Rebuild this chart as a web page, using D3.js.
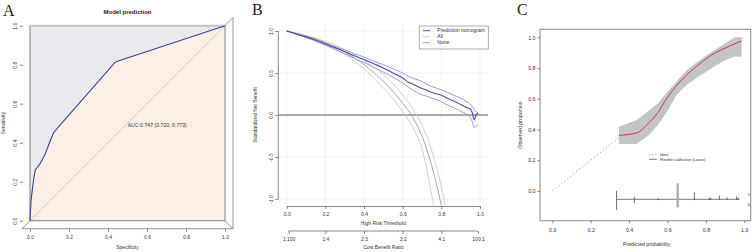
<!DOCTYPE html>
<html>
<head>
<meta charset="utf-8">
<script src="https://cdn.jsdelivr.net/npm/d3@7"></script>
<style>
body { margin: 0; background: #fff; }
svg { display: block; font-family: "Liberation Sans", Arial, sans-serif; }
</style>
</head>
<body>
<svg id="fig" width="753" height="252"></svg>
<script>
// ---- panel A: ROC ----
var rocX = [0, 0.005, 0.012, 0.02, 0.027, 0.05, 0.077, 0.1, 0.12, 0.154, 0.436, 0.46, 1];
var rocY = [0, 0.1, 0.16, 0.22, 0.26, 0.29, 0.34, 0.4, 0.45, 0.49, 0.812, 0.822, 1];
var aucLabel = "AUC:0.747 (0.720, 0.773)";
var unitTicks = [0, 0.2, 0.4, 0.6, 0.8, 1];

// ---- panel B: decision curve ----
var nomoT = [0, 0.05, 0.1, 0.15, 0.2, 0.25, 0.3, 0.35, 0.4, 0.45, 0.5, 0.55, 0.6, 0.63, 0.65, 0.7, 0.73, 0.75, 0.8, 0.83, 0.85, 0.88, 0.9, 0.93, 0.95, 0.96, 0.97, 0.98, 0.99];
var nomoMid = [1, 0.965, 0.93, 0.89, 0.845, 0.8, 0.755, 0.705, 0.66, 0.61, 0.56, 0.5, 0.44, 0.39, 0.37, 0.315, 0.29, 0.27, 0.235, 0.2, 0.18, 0.15, 0.125, 0.09, 0.07, 0.03, -0.06, 0.0, 0.02];
var nomoHi = [1, 0.968, 0.935, 0.9, 0.86, 0.815, 0.775, 0.73, 0.69, 0.64, 0.6, 0.55, 0.5, 0.46, 0.44, 0.4, 0.36, 0.34, 0.3, 0.27, 0.25, 0.22, 0.2, 0.16, 0.13, 0.1, 0.06, 0.04, 0.02];
var nomoLo = [1, 0.962, 0.922, 0.88, 0.83, 0.78, 0.73, 0.675, 0.625, 0.57, 0.51, 0.45, 0.38, 0.33, 0.3, 0.24, 0.22, 0.2, 0.16, 0.12, 0.1, 0.07, 0.045, 0.01, -0.03, -0.08, -0.15, -0.13, -0.12];
var allT = [0, 0.1, 0.2, 0.3, 0.4, 0.5, 0.55, 0.6, 0.65, 0.7, 0.75, 0.8, 0.85];
var allMid = [1, 0.94, 0.86, 0.75, 0.6, 0.4, 0.28, 0.14, -0.02, -0.25, -0.6, -1.08, -1.7];
var allHi = [1, 0.95, 0.875, 0.78, 0.65, 0.48, 0.37, 0.24, 0.08, -0.12, -0.42, -0.85, -1.45];
var allLo = [1, 0.93, 0.845, 0.72, 0.55, 0.32, 0.19, 0.04, -0.14, -0.4, -0.95, -1.6, -2.3];
var snbTicks = [-1, -0.5, 0, 0.5, 1];
var cbTicks = [0.01, 0.2, 0.4, 0.6, 0.8, 0.99];
var cbLabels = ["1:100", "1:4", "2:3", "3:2", "4:1", "100:1"];
var dcaLegend = ["Prediction nomogram", "All", "None"];

// ---- panel C: calibration ----
var calP = [0.347, 0.44, 0.5, 0.55, 0.6, 0.65, 0.7, 0.75, 0.8, 0.85, 0.9, 0.95, 0.986];
var calObs = [0.362, 0.378, 0.44, 0.51, 0.61, 0.69, 0.755, 0.81, 0.86, 0.9, 0.93, 0.958, 0.976];
var calHi = [0.418, 0.462, 0.52, 0.57, 0.645, 0.715, 0.787, 0.835, 0.88, 0.92, 0.96, 1.0, 1.0];
var calLo = [0.306, 0.306, 0.36, 0.43, 0.52, 0.63, 0.69, 0.735, 0.775, 0.815, 0.85, 0.875, 0.874];
var rugP = [0.335, 0.427, 0.552, 0.653, 0.74, 0.818, 0.826, 0.87, 0.91, 0.96, 0.968];
var rugOnes = [26, 8, 3, 50, 22, 5, 5, 12, 6, 9, 5];
var rugZeros = [33, 12, 3, 25, 3, 2, 2, 2, 2, 2, 2];
var calLegend = ["Ideal", "Flexible calibration (Loess)"];

var svg = d3.select("#fig");
var fmt1 = function(d) { return d3.format(".1f")(d).replace("\u2212", "-"); };

function tidy(g, fs) {
  g.attr("font-size", fs).attr("font-family", null);
  g.selectAll("line").attr("stroke", "#555").attr("stroke-width", 0.7);
  g.selectAll("text").attr("fill", "#333");
  return g;
}

function letter(x, y, s) {
  svg.append("text").attr("x", x).attr("y", y).text(s)
    .attr("font-family", "Liberation Serif, Times New Roman, serif")
    .attr("font-size", 16).attr("fill", "#222");
}

// ================= A =================
var xA = d3.scaleLinear().domain([0, 1]).range([30, 225]);
var yA = d3.scaleLinear().domain([0, 1]).range([220.7, 25.7]);
var rocPts = rocX.map(function(d, i) { return [d, rocY[i]]; });
var gA = svg.append("g");

gA.append("rect").attr("x", xA(0)).attr("y", yA(1))
  .attr("width", xA(1) - xA(0)).attr("height", yA(0) - yA(1)).attr("fill", "#e9eaee");
gA.append("path").datum(rocPts).attr("fill", "#fdf1e7")
  .attr("d", d3.area().x(function(d) { return xA(d[0]); }).y0(yA(0)).y1(function(d) { return yA(d[1]); }));

// 3D-ish frame
var o = 8;
var frame = [
  [xA(0) - o, yA(0) + o, xA(1) + o, yA(0) + o],
  [xA(1) + o, yA(1) - o, xA(1) + o, yA(0) + o],
  [xA(0) - o, yA(0) + o, xA(0), yA(0)],
  [xA(1), yA(1), xA(1) + o, yA(1) - o],
  [xA(1), yA(0), xA(1) + o, yA(0) + o]
];
gA.selectAll(".fr").data(frame).enter().append("line")
  .attr("x1", function(d) { return d[0]; }).attr("y1", function(d) { return d[1]; })
  .attr("x2", function(d) { return d[2]; }).attr("y2", function(d) { return d[3]; })
  .attr("stroke", "#8a8a8a").attr("stroke-width", 0.9);

gA.append("line").attr("x1", xA(0)).attr("y1", yA(0)).attr("x2", xA(1)).attr("y2", yA(1))
  .attr("stroke", "#bdbdbd").attr("stroke-width", 0.8);
gA.append("rect").attr("x", xA(0)).attr("y", yA(1))
  .attr("width", xA(1) - xA(0)).attr("height", yA(0) - yA(1))
  .attr("fill", "none").attr("stroke", "#888").attr("stroke-width", 1.1);
gA.append("line").attr("x1", xA(0)).attr("x2", xA(1)).attr("y1", yA(1)).attr("y2", yA(1))
  .attr("stroke", "#c6c6c6").attr("stroke-width", 2);

gA.append("path").datum(rocPts).attr("fill", "none").attr("stroke", "#3f3f8f").attr("stroke-width", 1.1)
  .attr("d", d3.line().x(function(d) { return xA(d[0]); }).y(function(d) { return yA(d[1]); }));

var axA = gA.append("g").attr("transform", "translate(0," + (yA(0) + o) + ")")
  .call(d3.axisBottom(xA).tickValues(unitTicks).tickSize(3).tickPadding(3.5).tickFormat(fmt1));
axA.select(".domain").remove();
tidy(axA, 5);

var ayA = gA.append("g").attr("transform", "translate(" + (xA(0) - 7) + ",0)")
  .call(d3.axisLeft(yA).tickValues(unitTicks).tickSize(3).tickFormat(fmt1));
ayA.select(".domain").remove();
tidy(ayA, 5);
ayA.selectAll("text").attr("transform", "rotate(-90)").attr("x", 0).attr("y", -6.5)
  .attr("dy", 0).attr("text-anchor", "middle");

gA.append("text").attr("x", 127.5).attr("y", 14).attr("text-anchor", "middle")
  .attr("font-size", 6).attr("font-weight", "bold").attr("fill", "#222").text("Model prediction");
gA.append("text").attr("x", 127.5).attr("y", 249).attr("text-anchor", "middle")
  .attr("font-size", 5).attr("fill", "#333").text("Specificity");
gA.append("text").attr("transform", "translate(5," + yA(0.5) + ") rotate(-90)")
  .attr("text-anchor", "middle").attr("font-size", 5).attr("fill", "#333").text("Sensitivity");
gA.append("text").attr("x", 127.7).attr("y", 127.3).attr("font-size", 5.2).attr("fill", "#333").text(aucLabel);
letter(3, 16, "A");

// ================= B =================
var xB = d3.scaleLinear().domain([0, 1]).range([286.7, 480]);
var yB = d3.scaleLinear().domain([-1, 1]).range([199, 31]);
var gB = svg.append("g");
var regB = { x0: 279, x1: 488, y0: 24.3, y1: 205.5 };

svg.append("defs").append("clipPath").attr("id", "clipB").append("rect")
  .attr("x", regB.x0).attr("y", regB.y0).attr("width", regB.x1 - regB.x0).attr("height", regB.y1 - regB.y0);

gB.selectAll(".vg").data(unitTicks).enter().append("line")
  .attr("x1", xB).attr("x2", xB).attr("y1", regB.y0).attr("y2", regB.y1)
  .attr("stroke", "#ededed").attr("stroke-width", 0.8);
gB.selectAll(".hg").data(snbTicks).enter().append("line")
  .attr("y1", yB).attr("y2", yB).attr("x1", regB.x0).attr("x2", regB.x1)
  .attr("stroke", "#ededed").attr("stroke-width", 0.8);

// None
gB.append("line").attr("x1", regB.x0).attr("x2", regB.x1).attr("y1", yB(0)).attr("y2", yB(0))
  .attr("stroke", "#a9a9a9").attr("stroke-width", 1.8);

var curves = gB.append("g").attr("clip-path", "url(#clipB)");
function dcaLine(ts, vs, col, w) {
  curves.append("path").datum(ts.map(function(t, i) { return [t, vs[i]]; }))
    .attr("fill", "none").attr("stroke", col).attr("stroke-width", w)
    .attr("d", d3.line().curve(d3.curveMonotoneX)
      .x(function(d) { return xB(d[0]); }).y(function(d) { return yB(d[1]); }));
}
dcaLine(allT, allHi, "#cacaca", 0.9);
dcaLine(allT, allLo, "#cacaca", 0.9);
dcaLine(allT, allMid, "#9c9c9c", 0.9);
dcaLine(nomoT, nomoHi, "#8f8fd2", 0.9);
dcaLine(nomoT, nomoLo, "#8f8fd2", 0.9);
dcaLine(nomoT, nomoMid, "#4848aa", 1.1);

var ayB = gB.append("g").attr("transform", "translate(278.3,0)")
  .call(d3.axisLeft(yB).tickValues(snbTicks).tickSize(3).tickSizeOuter(0).tickFormat(fmt1));
tidy(ayB, 5);
ayB.select(".domain").attr("stroke", "#555").attr("stroke-width", 0.7).attr("d", "M0," + yB(-1) + "V" + yB(1));
ayB.selectAll("text").attr("transform", "rotate(-90)").attr("x", 0).attr("y", -5.5)
  .attr("dy", 0).attr("text-anchor", "middle");

var axB = gB.append("g").attr("transform", "translate(0,206)")
  .call(d3.axisBottom(xB).tickValues(unitTicks).tickSize(3).tickSizeOuter(0).tickPadding(3.5).tickFormat(fmt1));
tidy(axB, 5);
axB.select(".domain").attr("stroke", "#555").attr("stroke-width", 0.7);

var cbB = gB.append("g").attr("transform", "translate(0,231)")
  .call(d3.axisBottom(xB).tickValues(cbTicks).tickSize(3).tickPadding(3)
    .tickFormat(function(d, i) { return cbLabels[i]; }));
cbB.select(".domain").remove();
tidy(cbB, 5);
cbB.append("line").attr("x1", xB(cbTicks[0])).attr("x2", xB(cbTicks[cbTicks.length - 1]))
  .attr("stroke", "#555").attr("stroke-width", 0.7);

gB.append("text").attr("x", 383.3).attr("y", 224.5).attr("text-anchor", "middle")
  .attr("font-size", 5).attr("fill", "#333").text("High Risk Threshold");
gB.append("text").attr("x", 383.3).attr("y", 248.5).attr("text-anchor", "middle")
  .attr("font-size", 5).attr("fill", "#333").text("Cost Benefit Ratio");
gB.append("text").attr("transform", "translate(257," + yB(0) + ") rotate(-90)")
  .attr("text-anchor", "middle").attr("font-size", 5).attr("fill", "#333").text("Standardized Net Benefit");

var legB = gB.append("g").attr("transform", "translate(419.3,26)");
legB.append("rect").attr("width", 69).attr("height", 23).attr("fill", "#fff")
  .attr("stroke", "#999").attr("stroke-width", 0.8);
var legCols = ["#4848aa", "#cacaca", "#a9a9a9"];
dcaLegend.forEach(function(s, i) {
  var y = 4.7 + i * 6;
  legB.append("line").attr("x1", 3.4).attr("x2", 10.7).attr("y1", y).attr("y2", y)
    .attr("stroke", legCols[i]).attr("stroke-width", 1);
  legB.append("text").attr("x", 18).attr("y", y + 1.7).attr("font-size", 5).attr("fill", "#333").text(s);
});
letter(252, 15, "B");

// ================= C =================
var xC = d3.scaleLinear().domain([0, 1]).range([552.3, 744.3]);
var yC = d3.scaleLinear().domain([0, 1]).range([191, 37.3]);
var gC = svg.append("g");
var fr = { x0: 540, x1: 750.7, y0: 29.3, y1: 220.7 };

gC.append("line").attr("x1", xC(0)).attr("y1", yC(0)).attr("x2", xC(1)).attr("y2", yC(1))
  .attr("stroke", "#9a9a9a").attr("stroke-width", 0.8).attr("stroke-dasharray", "1.6,2.2");

var band = calP.map(function(p, i) { return [p, calLo[i], calHi[i]]; });
gC.append("path").datum(band).attr("fill", "#c4c4c4")
  .attr("d", d3.area().x(function(d) { return xC(d[0]); })
    .y0(function(d) { return yC(d[1]); }).y1(function(d) { return yC(d[2]); }));
gC.append("path").datum(calP.map(function(p, i) { return [p, calObs[i]]; }))
  .attr("fill", "none").attr("stroke", "#b8323a").attr("stroke-width", 0.9)
  .attr("d", d3.line().curve(d3.curveMonotoneX)
    .x(function(d) { return xC(d[0]); }).y(function(d) { return yC(d[1]); }));

// rug of outcomes
var rugY = yC(0) + 8.3;
var spike = d3.scaleLinear().domain([0, d3.max(rugOnes)]).range([0, 16]);
gC.append("line").attr("x1", xC(d3.min(rugP))).attr("x2", xC(d3.max(rugP)) + 1.5)
  .attr("y1", rugY).attr("y2", rugY).attr("stroke", "#555").attr("stroke-width", 0.8);
var maxIdx = rugOnes.indexOf(d3.max(rugOnes));
gC.selectAll(".rug").data(rugP).enter().append("line")
  .attr("x1", function(d) { return xC(d); }).attr("x2", function(d) { return xC(d); })
  .attr("y1", function(d, i) { return rugY - spike(rugOnes[i]); })
  .attr("y2", function(d, i) { return rugY + spike(rugZeros[i]); })
  .attr("stroke", function(d, i) { return i === maxIdx ? "#a8a8a8" : "#444"; })
  .attr("stroke-width", function(d, i) { return i === maxIdx ? 2.2 : 0.8; });
gC.append("text").attr("x", 747.7).attr("y", rugY - 3).attr("font-size", 4).attr("fill", "#333").text("1");
gC.append("text").attr("x", 747.7).attr("y", rugY + 6.3).attr("font-size", 4).attr("fill", "#333").text("0");

gC.append("rect").attr("x", fr.x0).attr("y", fr.y0).attr("width", fr.x1 - fr.x0).attr("height", fr.y1 - fr.y0)
  .attr("fill", "none").attr("stroke", "#9a9a9a").attr("stroke-width", 1.2);

var ayC = gC.append("g").attr("transform", "translate(" + fr.x0 + ",0)")
  .call(d3.axisLeft(yC).tickValues([0, 0.2, 0.4, 0.6, 0.8, 1]).tickSize(2.5).tickPadding(2).tickFormat(fmt1));
ayC.select(".domain").remove();
tidy(ayC, 5.3);
var axC = gC.append("g").attr("transform", "translate(0," + fr.y1 + ")")
  .call(d3.axisBottom(xC).tickValues(unitTicks).tickSize(2.5).tickPadding(5).tickFormat(fmt1));
axC.select(".domain").remove();
tidy(axC, 5.3);

gC.append("text").attr("x", 646.5).attr("y", 246).attr("text-anchor", "middle")
  .attr("font-size", 5.2).attr("fill", "#333").text("Predicted probability");
gC.append("text").attr("transform", "translate(522.3," + ((fr.y0 + fr.y1) / 2) + ") rotate(-90)")
  .attr("text-anchor", "middle").attr("font-size", 5.2).attr("fill", "#333").text("Observed proportion");

var legStyles = [{ c: "#9a9a9a", d: "1.4,1.6" }, { c: "#b8323a", d: null }];
calLegend.forEach(function(s, i) {
  var y = 154.3 + i * 5;
  gC.append("line").attr("x1", 649).attr("x2", 656.7).attr("y1", y).attr("y2", y)
    .attr("stroke", legStyles[i].c).attr("stroke-width", 0.8).attr("stroke-dasharray", legStyles[i].d);
  gC.append("text").attr("x", 660).attr("y", y + 1.3).attr("font-size", 3.8).attr("fill", "#333").text(s);
});
letter(517, 15, "C");
</script>
</body>
</html>
